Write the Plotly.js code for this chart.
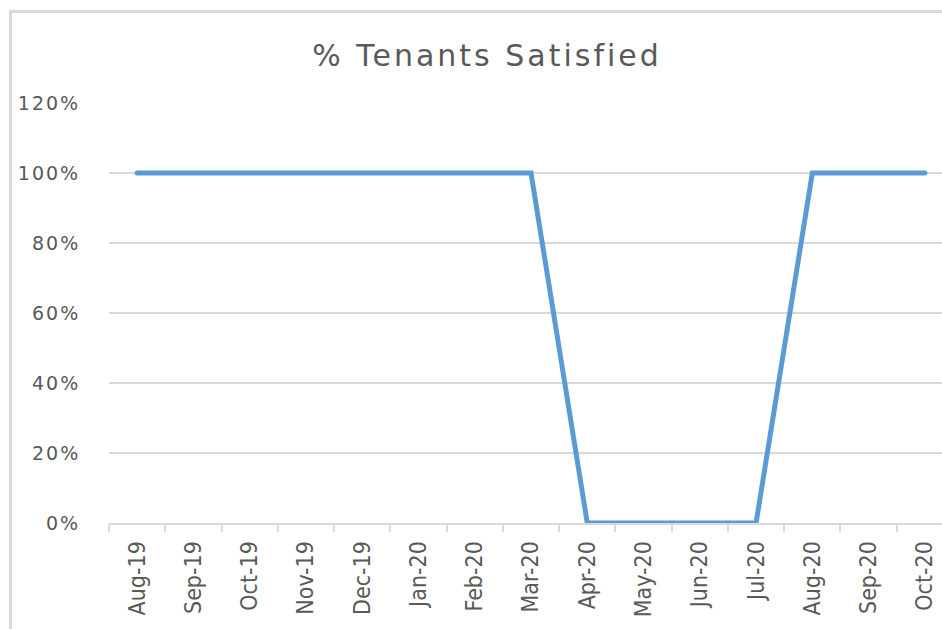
<!DOCTYPE html>
<html>
<head>
<meta charset="utf-8">
<script src="https://cdn.plot.ly/plotly-3.0.1.min.js"></script>
<style>
  html, body { margin: 0; padding: 0; background: #ffffff; overflow: hidden; width: 942px; height: 629px; }
  #frame { position: absolute; left: 9px; top: 10px; width: 1000px; height: 700px; border: 3px solid #d9d9d9; box-sizing: border-box; }
  #chart { position: absolute; left: 0; top: 0; width: 975px; height: 629px; }
  .gtitle { letter-spacing: 3px; }
  .ytick text { letter-spacing: 2px; }
  .js-line { stroke-linecap: round; stroke-linejoin: miter; }
</style>
</head>
<body>
<div id="frame"></div>
<div id="chart"></div>
<script>
const categories = ["Aug-19","Sep-19","Oct-19","Nov-19","Dec-19","Jan-20","Feb-20","Mar-20","Apr-20","May-20","Jun-20","Jul-20","Aug-20","Sep-20","Oct-20"];
const satisfied = [1,1,1,1,1,1,1,1,0,0,0,0,1,1,1];
const chartTitle = "% Tenants Satisfied";

const trace = {
  x: categories,
  y: satisfied,
  type: "scatter",
  mode: "lines",
  line: { color: "#5b9bd5", width: 5 },
  hoverinfo: "x+y"
};

const layout = {
  width: 975,
  height: 629,
  margin: { l: 109, r: 22, t: 103, b: 106 },
  paper_bgcolor: "rgba(0,0,0,0)",
  plot_bgcolor: "rgba(0,0,0,0)",
  showlegend: false,
  title: {
    text: chartTitle,
    font: { family: "DejaVu Sans, sans-serif", size: 30, color: "#595959" },
    x: 0.4995, xref: "container", xanchor: "center",
    y: 0.911, yref: "container", yanchor: "middle"
  },
  xaxis: {
    type: "category",
    range: [-0.5, categories.length - 0.5],
    showgrid: false,
    showline: true,
    linecolor: "#d9d9d9",
    linewidth: 2,
    ticks: "outside",
    tickson: "boundaries",
    ticklen: 7,
    tickwidth: 2,
    tickcolor: "#d9d9d9",
    tickangle: -90,
    ticklabelstandoff: 7,
    tickfont: { family: "Liberation Sans Narrow, DejaVu Sans Condensed, sans-serif", size: 23, color: "#595959" },
    fixedrange: true
  },
  yaxis: {
    range: [0, 1.2],
    dtick: 0.2,
    tick0: 0,
    tickformat: ".0%",
    showgrid: true,
    gridcolor: "#d9d9d9",
    gridwidth: 2,
    zeroline: false,
    showline: false,
    ticks: "outside",
    ticklen: 24,
    tickcolor: "rgba(0,0,0,0)",
    tickfont: { family: "DejaVu Sans, sans-serif", size: 19, color: "#595959" },
    fixedrange: true
  }
};

Plotly.newPlot("chart", [trace], layout, { displayModeBar: false, staticPlot: true });
</script>
</body>
</html>
